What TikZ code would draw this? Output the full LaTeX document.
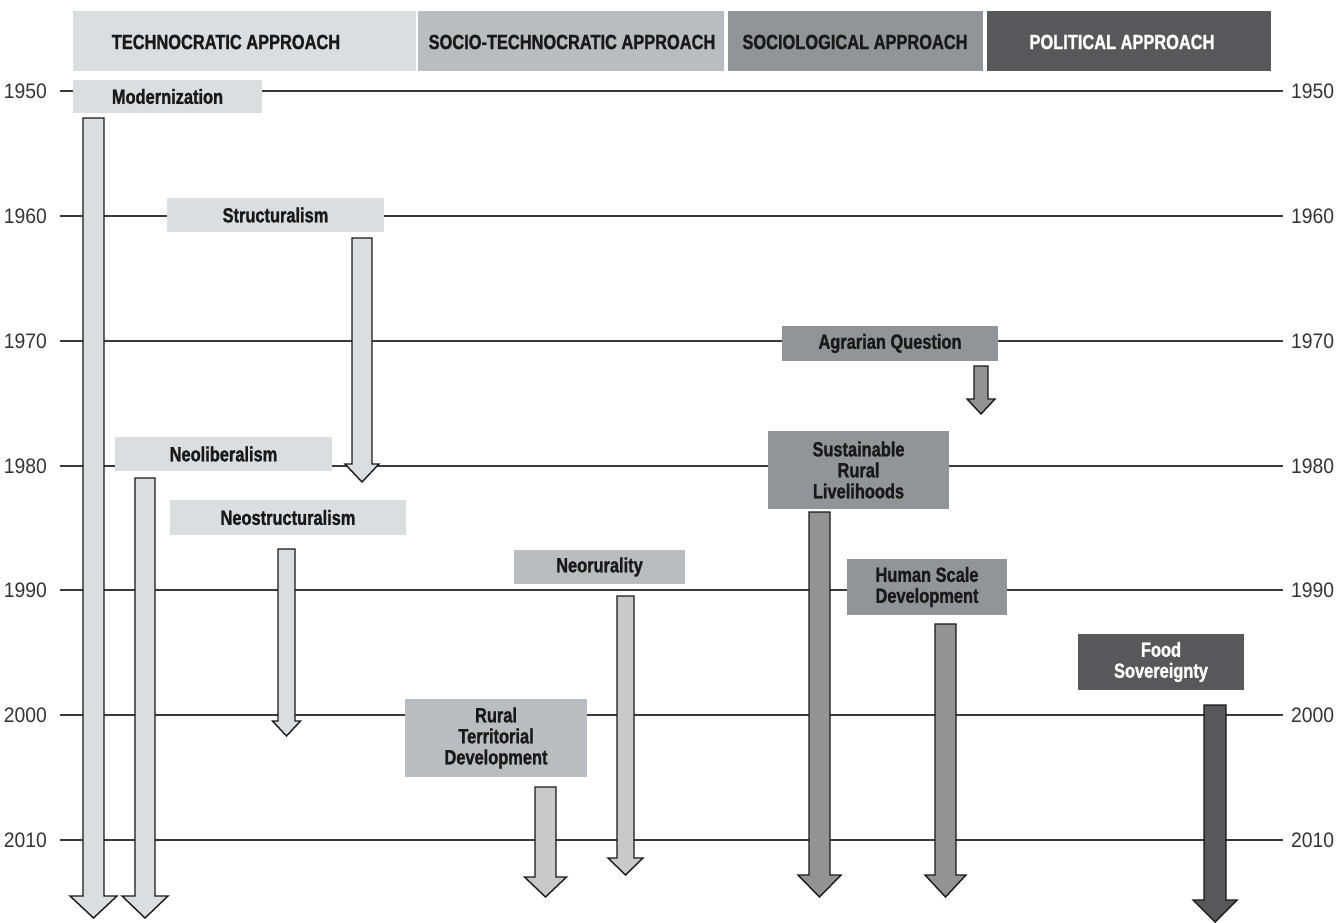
\documentclass[tikz,border=0pt]{standalone}
\usepackage{fontspec}
\usetikzlibrary{calc}
\setmainfont{Liberation Sans}[FakeStretch=0.8, BoldFeatures={FakeStretch=0.8, FakeBold=1.2}]
\newfontfamily\yearfont{Liberation Sans}[FakeStretch=0.92]
\definecolor{cA}{HTML}{DCDDDF}
\definecolor{cB}{HTML}{BBBCC0}
\definecolor{cC}{HTML}{939497}
\definecolor{cD}{HTML}{58585A}
\definecolor{aB}{HTML}{C9C9CA}
\definecolor{aC}{HTML}{939393}
\definecolor{lineC}{HTML}{3A3A3A}
\newcommand\blockarrow[7]{%
  \draw[#1] ({#2-#3},#4) -- ({#2+#3},#4) -- ({#2+#3},#6) -- ({#2+#5},#6) -- (#2,#7)
    -- ({#2-#5},#6) -- ({#2-#3},#6) -- cycle;}
\newcommand\bx[7]{%
  \node[box, fill=#6, minimum width={(#4-#2)*1pt}, minimum height={(#5-#3)*1pt}]
    (#1) at ({(#2+#4)/2},{(#3+#5)/2}) {#7};}
\begin{document}
\begin{tikzpicture}[x=1pt,y=-1pt,
  box/.style={inner sep=0pt, align=center, font=\fontsize{20.5}{21}\selectfont\bfseries, text=black!90},
  hdrtext/.style={inner sep=0pt, font=\fontsize{20.5}{21}\selectfont\bfseries},
  year/.style={inner sep=0pt, font=\fontsize{21}{21}\selectfont\yearfont, text=black!80},
  tline/.style={draw=lineC, line width=1.4pt},
  arr/.style={draw=black!90, line width=1.4pt, line join=miter}]
\useasboundingbox (0,0) rectangle (1344,923);
% header
\fill[cA] (73,11) rectangle (416,71);
\fill[cB] (418,11) rectangle (724,71);
\fill[cC] (728,11) rectangle (983,71);
\fill[cD] (987,11) rectangle (1271,71);
\node[hdrtext, text=black!90] (hTech) at (226,42) {TECHNOCRATIC APPROACH};
\node[hdrtext, text=black!90] (hSocTech) at (572,42) {SOCIO-TECHNOCRATIC APPROACH};
\node[hdrtext, text=black!90] (hSoc) at (855,42) {SOCIOLOGICAL APPROACH};
\node[hdrtext, text=white] (hPol) at (1122,42) {POLITICAL APPROACH};
% timeline
\foreach \yr/\yy in {1950/91,1960/216,1970/341,1980/466,1990/590,2000/715,2010/840}{
  \node[year, anchor=east] (L\yr) at (47,\yy) {\yr};
  \node[year, anchor=west] (R\yr) at (1291,\yy) {\yr};
  \draw[tline] ($(L\yr.east)+(13,0)$) -- ($(R\yr.west)+(-8,0)$);
}
% arrows
\blockarrow{arr, fill=cA}{93.5}{10.5}{118}{23.5}{896}{918}
\blockarrow{arr, fill=cA}{145}{10}{478}{23}{896}{918}
\blockarrow{arr, fill=cA}{362}{10}{238}{17}{464}{482}
\blockarrow{arr, fill=cA}{286.5}{8.5}{549}{14}{721}{736}
\blockarrow{arr, fill=aC}{981}{7}{366}{14}{399}{414}
\blockarrow{arr, fill=aB}{625.5}{8.5}{596}{17.5}{858}{875}
\blockarrow{arr, fill=aB}{545.5}{10.5}{787}{21}{877}{897}
\blockarrow{arr, fill=aC}{819.5}{10.5}{512}{21.5}{875}{897}
\blockarrow{arr, fill=aC}{945.5}{10.5}{624}{20.5}{875}{897}
\blockarrow{arr, fill=cD}{1215}{11}{705}{22}{900}{922}
% boxes
\bx{mod}{73}{80}{262}{113}{cA}{Modernization}
\bx{str}{167}{198}{384}{232}{cA}{Structuralism}
\bx{neol}{115}{437}{332}{471}{cA}{Neoliberalism}
\bx{neos}{170}{500}{406}{535}{cA}{Neostructuralism}
\bx{neor}{514}{550}{685}{584}{cB}{Neorurality}
\bx{rtd}{405}{699}{587}{777}{cB}{Rural\\Territorial\\Development}
\bx{agq}{782}{326}{998}{361}{cC}{Agrarian Question}
\bx{srl}{768}{431}{949}{509}{cC}{Sustainable\\Rural\\Livelihoods}
\bx{hsd}{847}{559}{1007}{615}{cC}{Human Scale\\Development}
\bx{fs}{1078}{634}{1244}{690}{cD}{\color{white}Food\\\color{white}Sovereignty}
\end{tikzpicture}
\end{document}
